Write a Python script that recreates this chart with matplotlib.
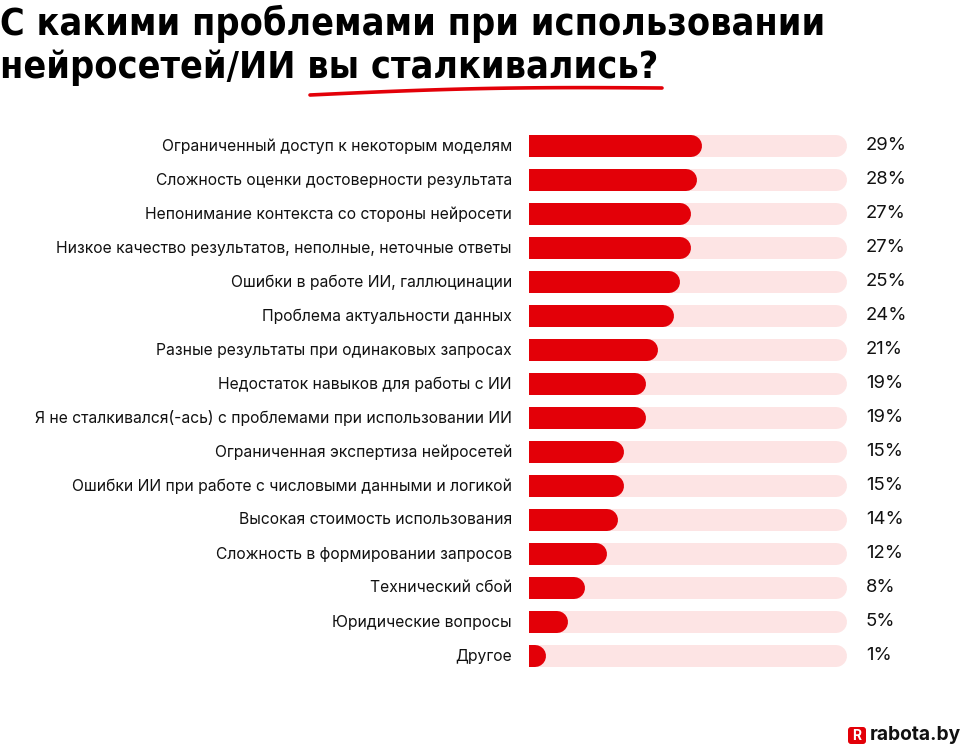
import matplotlib.pyplot as plt
from matplotlib.patches import FancyBboxPatch
import numpy as np

# data
categories = [
    "Ограниченный доступ к некоторым моделям",
    "Сложность оценки достоверности результата",
    "Непонимание контекста со стороны нейросети",
    "Низкое качество результатов, неполные, неточные ответы",
    "Ошибки в работе ИИ, галлюцинации",
    "Проблема актуальности данных",
    "Разные результаты при одинаковых запросах",
    "Недостаток навыков для работы с ИИ",
    "Я не сталкивался(-ась) с проблемами при использовании ИИ",
    "Ограниченная экспертиза нейросетей",
    "Ошибки ИИ при работе с числовыми данными и логикой",
    "Высокая стоимость использования",
    "Сложность в формировании запросов",
    "Технический сбой",
    "Юридические вопросы",
    "Другое",
]
values = [29, 28, 27, 27, 25, 24, 21, 19, 19, 15, 15, 14, 12, 8, 5, 1]
value_labels = [f"{v}%" for v in values]

title_lines = ["С какими проблемами при использовании", "нейросетей/ИИ вы сталкивались?"]

RED = "#e30008"
PINK = "#fde4e4"
W, H = 962, 745

plt.rcParams['font.family'] = ['Inter', 'DejaVu Sans']

fig = plt.figure(figsize=(W / 100, H / 100), dpi=100)
fig.patch.set_facecolor("white")

# bar area in pixels
x0, top, bottom = 529, 129, 673
px_per_pct = 5.6
bar_px = 22
lw = bar_px * 0.72
ax = fig.add_axes([x0 / W, 1 - bottom / H, (W - x0) / W, (bottom - top) / H])
ax.set_xlim(0, (W - x0) / px_per_pct)
ax.set_ylim(len(values) - 0.5, -0.5)
ax.axis("off")

track_end = (847 - x0 - bar_px / 2) / px_per_pct
for i, v in enumerate(values):
    ax.plot([0, track_end], [i, i], color=PINK, lw=lw, solid_capstyle="round", zorder=1)
    ax.plot([0, v], [i, i], color=RED, lw=lw, solid_capstyle="round", zorder=2)

tr = ax.get_yaxis_transform()
for i, (cat, lab) in enumerate(zip(categories, value_labels)):
    ax.text((512 - x0) / (W - x0), i, cat, transform=tr, ha="right", va="center",
            fontsize=11.3, color="#111111", clip_on=False)
    ax.text((866 - x0) / (W - x0), i, lab, transform=tr, ha="left", va="center",
            fontsize=13.3, color="#111111", clip_on=False)

# overlay in pixel coords for title, underline and logo
ov = fig.add_axes([0, 0, 1, 1], zorder=5)
ov.set_xlim(0, W)
ov.set_ylim(H, 0)
ov.axis("off")
ov.patch.set_alpha(0)

for k, line in enumerate(title_lines):
    ov.text(0, 35 + 43 * k, line, fontsize=27, fontweight="bold", fontstretch="condensed",
            family=["DejaVu Sans"], va="baseline", ha="left")

ux = np.linspace(310, 662, 40)
t = (ux - 310) / (662 - 310)
uy = 95 - 7 * t - 3 * np.sin(np.pi * t)
ov.plot(ux, uy, color=RED, lw=2.6, solid_capstyle="round")

ov.add_patch(FancyBboxPatch((848, 727), 18, 17, boxstyle="round,pad=0,rounding_size=3",
                            fc=RED, ec="none"))
ov.text(857, 736, "R", color="white", fontsize=10, fontweight="bold", ha="center", va="center")
ov.text(870, 735.5, "rabota.by", color="#111111", fontsize=13.8, fontweight="bold",
        ha="left", va="center")

fig.savefig("out.png", dpi=100)
